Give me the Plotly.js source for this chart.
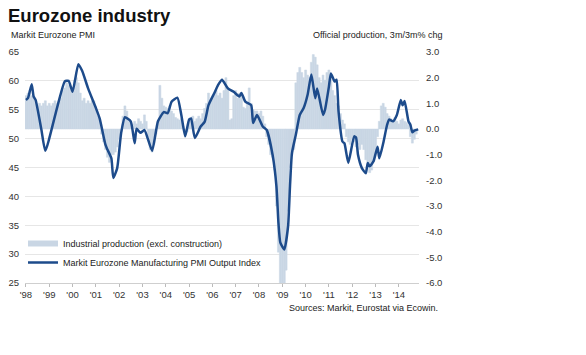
<!DOCTYPE html>
<html><head><meta charset="utf-8">
<script src="https://cdn.plot.ly/plotly-3.0.1.min.js"></script>
<style>html,body{margin:0;padding:0;background:#fff}#chart{width:586px;height:355px}</style>
</head><body><div id="chart"></div>
<script>
// Markit Eurozone Manufacturing PMI Output Index (left axis)
const pmiDates = [
 "1998-01","1998-02","1998-04","1998-05","1998-06","1998-09","1998-11","1999-09","1999-11","2000-01",
 "2000-04","2000-06","2000-09","2001-01","2001-03","2001-06","2001-07","2001-09","2001-10","2001-12",
 "2002-02","2002-04","2002-07","2002-09","2002-10","2002-12","2003-02","2003-06","2003-09","2003-12",
 "2004-02","2004-04","2004-07","2004-09","2004-11","2005-01","2005-02","2005-04","2005-07","2005-09",
 "2005-11","2006-02","2006-04","2006-06","2006-09","2006-12","2007-03","2007-04","2007-06","2007-09",
 "2007-10","2007-12","2008-03","2008-05","2008-08","2008-10","2008-11","2008-12","2009-02","2009-04",
 "2009-05","2009-06","2009-08","2009-10","2009-12","2010-02","2010-04","2010-06","2010-07","2010-10",
 "2010-11","2011-01","2011-02","2011-04","2011-05","2011-06","2011-08","2011-09","2011-11","2012-02",
 "2012-03","2012-04","2012-06","2012-08","2012-09","2012-10","2012-12","2013-02","2013-03","2013-05",
 "2013-07","2013-08","2013-10","2013-12","2014-02","2014-03","2014-04","2014-06","2014-07","2014-08",
 "2014-09","2014-11"];
const pmiValues = [
 56.7,57.0,59.4,57.3,56.7,51.5,47.9,59.9,60.0,58.1,
 62.9,61.7,58.7,55.3,53.5,48.9,48.1,46.6,43.2,44.9,
 51.0,53.7,53.0,49.2,51.7,51.0,51.5,47.9,53.0,54.6,
 54.4,56.4,57.1,54.1,50.4,53.3,53.5,50.1,52.1,52.9,
 55.8,57.9,59.3,60.2,58.7,58.1,57.3,57.9,56.4,55.8,
 52.7,54.1,52.1,51.5,47.2,41.7,35.4,32.0,30.8,34.8,
 41.7,47.5,50.7,54.1,55.3,57.6,61.1,57.0,58.7,54.1,
 55.0,59.0,61.3,59.9,60.2,54.7,49.5,49.2,45.8,50.4,
 50.2,47.2,44.9,44.0,45.8,45.2,46.1,48.6,46.6,49.2,
 52.4,53.3,53.0,54.1,56.7,55.8,56.5,53.0,52.4,51.1,
 51.4,51.6];

// Industrial production (excl. construction), 3m/3m % chg, monthly from Jan 1998 (right axis)
const ipStartYear = 1998;
const ipValues = [
 1.3,1.4,1.5,1.3,1.2,1.0, 0.9,1.0,0.9,1.0,1.1,0.9,
 1.0,0.9,1.0,1.1,1.0,1.1,1.2, 1.5,1.6,1.8,1.7,1.5,
 1.6, 1.9,2.0,1.8,1.4, 1.1,1.2,1.0,1.1,1.0,1.1, 1.1,
 0.8,0.5,0.4, -0.2,-0.5,-0.8,-1.1,-1.3,-1.0,-1.0, -0.9,-0.7,
 -0.4,-0.1, 0.5,0.9,0.7,0.3, 0.3,0.2,0.3,0.2,0.4,0.3,
 0.2, 0.55,0.3, -0.3,-0.8,-0.9,-0.6,-0.2, 0.3,1.7,1.2,0.9,
 0.85,0.8,0.9,0.7,0.6,0.45, 0.4,0.35,0.4,0.1,-0.15,-0.1,
 0.3,0.4,0.5,0.3,0.4,0.5,0.4, 0.6,0.8,1.0,1.4,1.1,
 1.2,1.4,1.5,1.3,1.4,1.2,1.5,2.0,1.6, 0.35,0.4, 1.3,
 1.5,1.2,1.4,1.3, 0.85,0.8,1.0,1.6,1.0, 0.75,0.7,0.7,
 0.6,0.7,0.5,0.2, -0.3,-0.6,-1.0,-1.1,-1.6, -3.0,-4.8,-6.5,
 -7.0,-6.8,-5.5,-3.2, -1.5,-1.0,-0.8,1.8, 2.2,2.4,2.2,2.0,
 2.3,2.1,2.0, 2.6,2.9,2.8,2.5, 2.0,1.8,2.1,1.9,2.2,
 2.3,2.0, 1.5,1.3,1.0,0.9,0.6,0.35,0.2, -0.3,-0.5,-0.6,
 -0.4,-0.5,-0.7,-0.6,-0.8,-0.6,-0.8, -1.2,-1.5,-1.7,-1.6,-1.2,
 -0.8, -0.3,0.3, 0.9,1.0,0.85,0.6,0.5, 0.4,0.3,0.45,0.3,
 0.2,0.35,0.4,0.3,0.25,0.15, -0.3,-0.55,-0.4,-0.2];

const xTickDates = ["1998-01-01","1999-01-01","2000-01-01","2001-01-01","2002-01-01","2003-01-01","2004-01-01","2005-01-01","2006-01-01","2007-01-01","2008-01-01","2009-01-01","2010-01-01","2011-01-01","2012-01-01","2013-01-01","2014-01-01"];
const xTickLabels = ["'98","'99","'00","'01","'02","'03","'04","'05","'06","'07","'08","'09","'10","'11","'12","'13","'14"];
const leftTickVals = [25,30,35,40,45,50,55,60,65];
const rightTickVals = [-6,-5,-4,-3,-2,-1,0,1,2,3];
const rightTickLabels = ["-6.0","-5.0","-4.0","-3.0","-2.0","-1.0","0.0","1.0","2.0","3.0"];

const ipDates = ipValues.map((v, i) => {
  const y = ipStartYear + Math.floor(i / 12), m = (i % 12) + 1;
  return y + "-" + String(m).padStart(2, "0") + "-01";
});

const barColor = "#c9d6e4";
const lineColor = "#1d4b8b";
const font = "Liberation Sans, Arial, sans-serif";
const txt = "#222";
const monthMs = 31.5 * 24 * 3600 * 1000;

const traces = [
  {type: "bar", x: ipDates, y: ipValues, yaxis: "y", width: monthMs,
   marker: {color: barColor, line: {width: 0.5, color: barColor}},
   showlegend: false, hoverinfo: "skip"},
  {type: "scatter", mode: "lines", x: [null], y: [null], yaxis: "y2",
   line: {color: barColor, width: 6}, name: "Industrial production (excl. construction)"},
  {type: "scatter", mode: "lines", x: pmiDates, y: pmiValues, yaxis: "y2",
   line: {color: lineColor, width: 2.5, shape: "spline", smoothing: 0.5},
   name: "Markit Eurozone Manufacturing PMI Output Index"}
];

const px2x = p => (p - 25) / 394;
const px2y = p => (283 - p) / 231;

const layout = {
  width: 586, height: 355,
  margin: {l: 25, r: 167, t: 52, b: 72},
  paper_bgcolor: "#fff", plot_bgcolor: "#fff",
  font: {family: font, color: txt, size: 9},
  bargap: 0,
  title: {text: "<b>Eurozone industry</b>", x: 8/586, xanchor: "left", xref: "container",
          y: 1 - 16/355, yanchor: "middle", yref: "container",
          font: {family: font, size: 18.5, color: "#111"}},
  xaxis: {type: "date", range: ["1997-12-17", "2014-11-13"],
          tickvals: xTickDates, ticktext: xTickLabels,
          ticks: "outside", ticklen: 3, tickcolor: "#bbb",
          showline: true, linecolor: "#cfcfcf", linewidth: 1,
          showgrid: false, zeroline: false,
          tickfont: {size: 9.5, color: "#333"}},
  yaxis: {range: [-6, 3], side: "right", tickvals: rightTickVals, ticktext: rightTickLabels,
          showgrid: false, zeroline: false, ticks: "", ticklabelstandoff: 6,
          tickfont: {size: 9.5, color: "#333"}},
  yaxis2: {range: [25, 65], overlaying: "y", side: "left", tickvals: leftTickVals,
           showgrid: true, gridcolor: "#e6e6e6", gridwidth: 1, zeroline: false,
           ticks: "", ticklabelstandoff: 5,
           tickfont: {size: 9.5, color: "#333"}},
  legend: {x: px2x(23), xanchor: "left", y: px2y(229), yanchor: "top",
           bgcolor: "rgba(0,0,0,0)", font: {size: 9, color: txt},
           traceorder: "normal"},
  annotations: [
    {text: "Markit Eurozone PMI", xref: "paper", yref: "paper", x: px2x(9), y: px2y(35),
     xanchor: "left", yanchor: "middle", showarrow: false, font: {size: 9, color: txt}},
    {text: "Official production, 3m/3m% chg", xref: "paper", yref: "paper", x: px2x(444), y: px2y(35),
     xanchor: "right", yanchor: "middle", showarrow: false, font: {size: 9, color: txt}},
    {text: "Sources: Markit, Eurostat via Ecowin.", xref: "paper", yref: "paper", x: px2x(440), y: px2y(308),
     xanchor: "right", yanchor: "middle", showarrow: false, font: {size: 9, color: txt}}
  ]
};

Plotly.newPlot("chart", traces, layout, {displayModeBar: false, staticPlot: true});
</script>
</body></html>
